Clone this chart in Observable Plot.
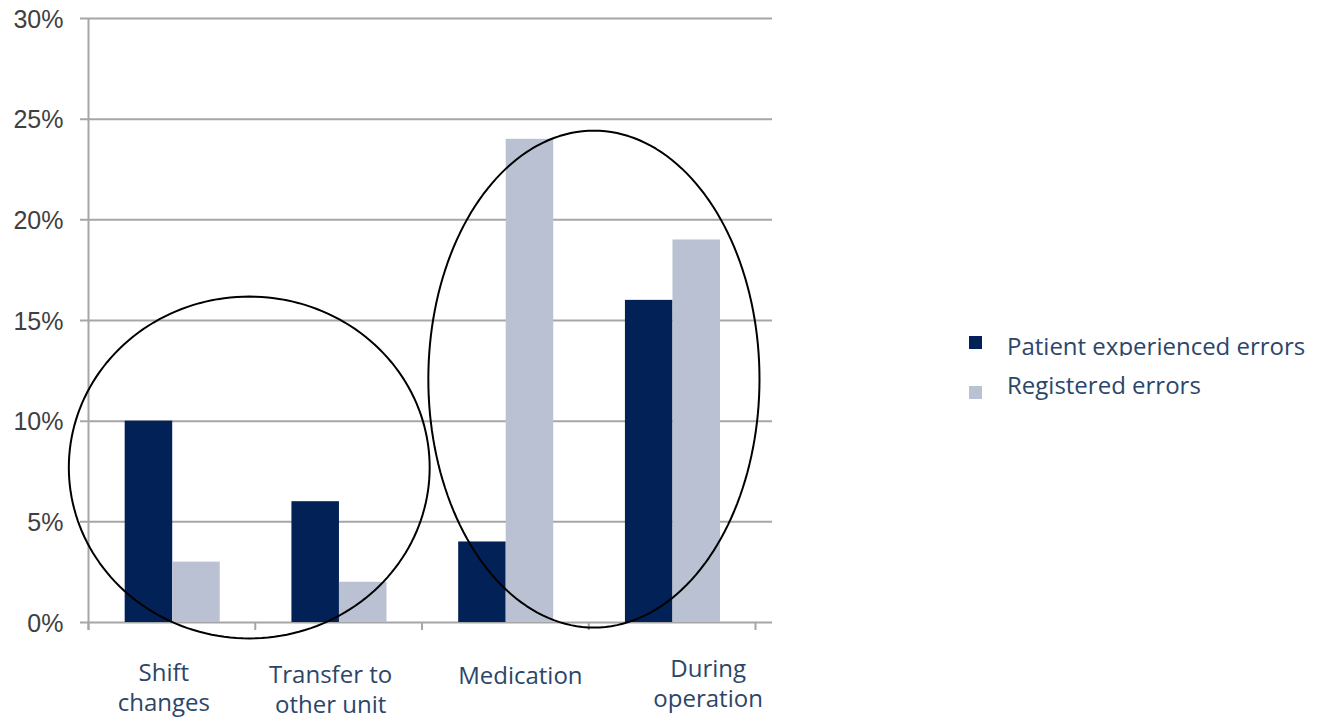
<!DOCTYPE html>
<html>
<head>
<meta charset="utf-8">
<script src="https://cdn.jsdelivr.net/npm/d3@7"></script>
<script src="https://cdn.jsdelivr.net/npm/@observablehq/plot@0.6"></script>
<style>
  html, body { margin: 0; padding: 0; background: #ffffff; }
  #wrap { position: relative; width: 1321px; height: 719px; overflow: hidden; }
  #wrap svg { position: absolute; left: 0; top: 0; overflow: visible; }
  .leg-swatch { position: absolute; width: 13px; height: 13px; }
  .leg-text { position: absolute; font-family: "Open Sans", sans-serif; font-size: 24px; line-height: 24px; color: #2b4669; white-space: nowrap; }
</style>
</head>
<body>
<div id="wrap"></div>
<script>
// ---- data ----
const categories = ["Shift changes", "Transfer to other unit", "Medication", "During operation"];
const categoryLabels = ["Shift\nchanges", "Transfer to\nother unit", "Medication", "During\noperation"];
const seriesNames = ["Patient experienced errors", "Registered errors"];
const patientErrors = [10, 6, 4, 16];
const registeredErrors = [3, 2, 24, 19];
const yTicks = [0, 5, 10, 15, 20, 25, 30];
const xTicks = [0, 1, 2, 3, 4];
// annotation ellipses (in data units: category index / percent)
const ellipseCx = [0.964, 3.031];
const ellipseCy = [7.7, 12.09];
const ellipseRx = [1.082, 0.993];
const ellipseRy = [8.49, 12.34];

// ---- styles ----
const colors = ["#022157", "#b9c1d2"];
const gridColor = "#a6a6a6";
const labelColor = "#2b4669";
const labelDx = [-8, -8, 15, 36];
const labelDy = [37, 39, 40, 33];
const barStart = 0.22, barWidth = 0.285;

// ---- build rows ----
const rows = [];
categories.forEach((c, i) => {
  [patientErrors[i], registeredErrors[i]].forEach((v, s) => {
    rows.push({ idx: i, category: c, series: seriesNames[s], s, value: v });
  });
});

const ellipsePts = [];
ellipseCx.forEach((cx, k) => {
  for (let t = 0; t <= 360; t += 2) {
    const a = t * Math.PI / 180;
    ellipsePts.push({ k, x: cx + ellipseRx[k] * Math.cos(a), y: ellipseCy[k] + ellipseRy[k] * Math.sin(a) });
  }
});

const labelMarks = categoryLabels.map((lab, i) =>
  Plot.text([i], {
    x: d => d + 0.5, y: 0, text: () => lab,
    textAnchor: "middle", lineAnchor: "top", lineHeight: 1.25,
    dx: labelDx[i], dy: labelDy[i],
    fontSize: 24, fontFamily: "Open Sans", fill: labelColor
  })
);

const chart = Plot.plot({
  width: 1321,
  height: 719,
  marginTop: 18,
  marginBottom: 97,
  marginLeft: 88,
  marginRight: 549,
  x: { domain: [0, 4.102], axis: null },
  y: { domain: [0, 30], axis: null },
  color: { domain: seriesNames, range: colors },
  style: { background: "transparent", overflow: "visible" },
  marks: [
    Plot.ruleY(yTicks, { stroke: gridColor, strokeWidth: 2, insetLeft: -8 }),
    Plot.rectY(rows, {
      x1: d => d.idx + barStart + d.s * barWidth,
      x2: d => d.idx + barStart + (d.s + 1) * barWidth,
      y1: 0, y2: "value", fill: "series"
    }),
    Plot.ruleX([0], { stroke: gridColor, strokeWidth: 2, insetBottom: -8 }),
    Plot.ruleX(xTicks, { y1: 0, y2: 0, stroke: gridColor, strokeWidth: 2, insetBottom: -8 }),
    Plot.text(yTicks, {
      y: d => d, text: d => d + "%", frameAnchor: "left", textAnchor: "end", dx: -25, dy: 1,
      fontSize: 25, fontFamily: "Liberation Sans", fill: "#404040"
    }),
    Plot.line(ellipsePts, { x: "x", y: "y", z: "k", stroke: "#000", strokeWidth: 2, curve: "linear" }),
    ...labelMarks
  ]
});

const wrap = document.getElementById("wrap");
wrap.appendChild(chart);

// ---- legend ----
const legendTop = [336, 386];
const legendTextTop = [334, 373];
const legendClip = [22, null];
seriesNames.forEach((name, i) => {
  const sw = document.createElement("div");
  sw.className = "leg-swatch";
  sw.style.left = "969px";
  sw.style.top = legendTop[i] + "px";
  sw.style.background = colors[i];
  wrap.appendChild(sw);
  const tx = document.createElement("div");
  tx.className = "leg-text";
  tx.style.left = "1007px";
  tx.style.top = legendTextTop[i] + "px";
  if (legendClip[i] != null) {
    tx.style.height = legendClip[i] + "px";
    tx.style.overflow = "hidden";
  }
  tx.textContent = name;
  wrap.appendChild(tx);
});
</script>
</body>
</html>
